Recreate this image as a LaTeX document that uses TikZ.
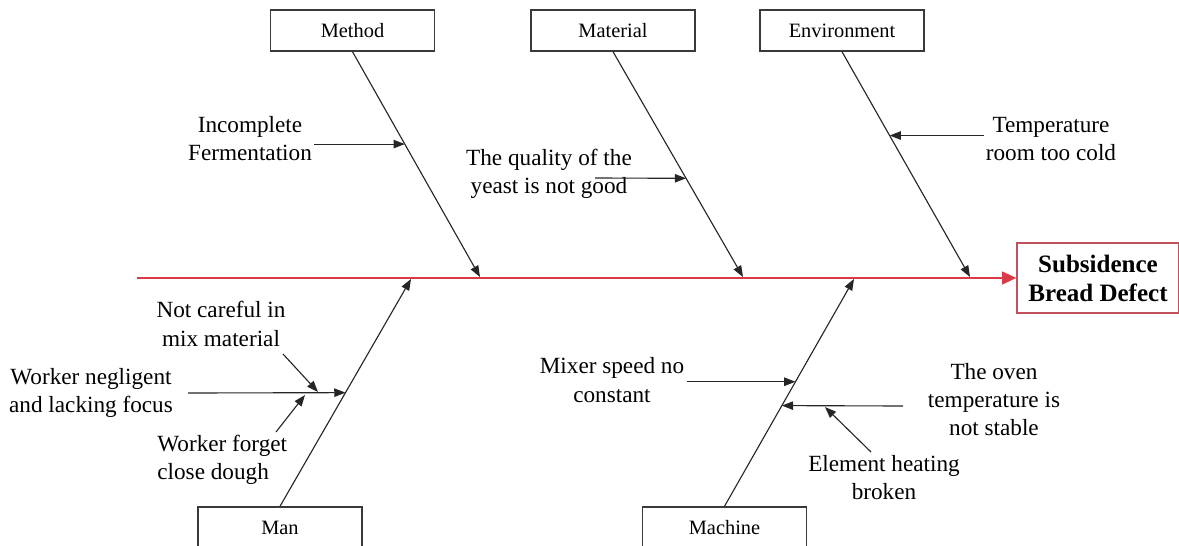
\documentclass[tikz,border=0pt]{standalone}
\usepackage{fontspec}
\setmainfont{Liberation Serif}
\usetikzlibrary{arrows.meta,calc}
\definecolor{boxGray}{HTML}{3A3A3A}
\definecolor{spineRed}{HTML}{D93A48}
\definecolor{headRed}{HTML}{E3202C}
\definecolor{effectRed}{HTML}{C0505C}
\tikzset{
  catbox/.style={draw=boxGray, line width=1pt, minimum width=4.1cm, minimum height=1.025cm,
                 inner sep=0pt, font=\fontsize{14.5}{17}\selectfont},
  effect/.style={draw=effectRed, line width=1pt, fill=white, align=center, minimum width=4.05cm,
                 minimum height=1.75cm, font=\fontsize{17.8}{20.6}\selectfont\bfseries},
  causelbl/.style={font=\fontsize{16.5}{20}\selectfont, align=center, inner sep=1.5pt},
  bone/.style={-{Triangle[length=8pt,width=6pt]}, line width=0.8pt, black!85},
  spine/.style={-{Triangle[length=10pt,width=9pt]}, line width=1.4pt, spineRed},
}

\begin{document}
\begin{tikzpicture}[x=0.025cm, y=-0.025cm]
    \useasboundingbox (0,0) rectangle (1179,546);
    \node[catbox] (method) at (352.5,30.5) {Method};
    \node[catbox] (material) at (613,30.5) {Material};
    \node[catbox] (environment) at (842,30.5) {Environment};
    \node[catbox] (man) at (280,527.5) {Man};
    \node[catbox] (machine) at (724.5,527.5) {Machine};
    \node[effect] (effect) at (1098,278) {Subsidence\\Bread Defect};

    \coordinate (spineStart) at (137,278);
    \coordinate (methodEnd) at (480,277);
    \coordinate (materialEnd) at (743,277);
    \coordinate (environmentEnd) at (970,277);
    \coordinate (manEnd) at (411,279);
    \coordinate (machineEnd) at (854,279);
    \draw[spine] (spineStart) -- (effect.west);
    \draw[bone] (method.south) -- (methodEnd);
    \draw[bone] (material.south) -- (materialEnd);
    \draw[bone] (environment.south) -- (environmentEnd);
    \draw[bone] (man.north) -- (manEnd);
    \draw[bone] (machine.north) -- (machineEnd);

    \node[causelbl] (ferm) at (250,139) {Incomplete\\Fermentation};
    \node[causelbl] (quality) at (549,174) {The quality of the\\yeast is not good};
    \node[causelbl] (temp) at (1051,139) {Temperature\\room too cold};
    \node[causelbl] (careless) at (221,324) {Not careful in\\mix material};
    \node[causelbl] (negligent) at (91,393) {Worker negligent\\and lacking focus};
    \node[causelbl, anchor=west, align=left] (forget) at (155,460) {Worker forget\\close dough};
    \node[causelbl] (mixer) at (612,380) {Mixer speed no\\constant};
    \node[causelbl] (oven) at (994,399.5) {The oven\\temperature is\\not stable};
    \node[causelbl] (element) at (884,477.5) {Element heating\\broken};

    \coordinate (fermTip) at ($(method.south)!0.41!(methodEnd)$);
    \coordinate (qualityTip) at ($(material.south)!0.562!(materialEnd)$);
    \coordinate (qualityTail) at (595,178);
    \coordinate (tempTip) at ($(environment.south)!0.372!(environmentEnd)$);
    \coordinate (negligentTip) at ($(man.north)!0.5!(manEnd)$);
    \coordinate (negligentTail) at (188,393);
    \coordinate (carelessTail) at (283,354);
    \coordinate (carelessTip) at (318,392);
    \coordinate (forgetTail) at (276,432);
    \coordinate (forgetTip) at (305,395);
    \coordinate (mixerTip) at ($(machine.north)!0.548!(machineEnd)$);
    \coordinate (ovenTip) at ($(machine.north)!0.443!(machineEnd)$);
    \coordinate (ovenTail) at (903,406);
    \coordinate (elementTail) at (871,452);
    \coordinate (elementTip) at (825,407);

    \draw[bone] (ferm.east |- fermTip) -- (fermTip);
    \draw[bone] (qualityTail) -- (qualityTip);
    \draw[bone] (temp.west |- tempTip) -- (tempTip);
    \draw[bone] (negligentTail) -- (negligentTip);
    \draw[bone] (carelessTail) -- (carelessTip);
    \draw[bone] (forgetTail) -- (forgetTip);
    \draw[bone] (mixer.east |- mixerTip) -- (mixerTip);
    \draw[bone] (ovenTail) -- (ovenTip);
    \draw[bone] (elementTail) -- (elementTip);
  \end{tikzpicture}
\end{document}
